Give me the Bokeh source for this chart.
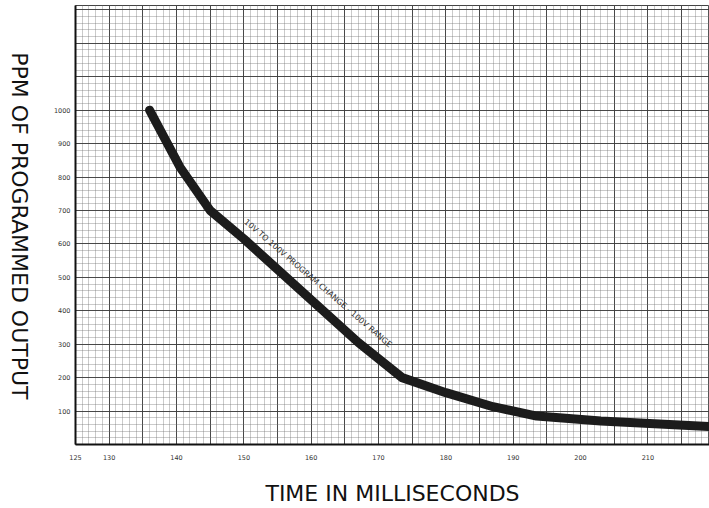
import math
from bokeh.plotting import figure
from bokeh.layouts import row
from bokeh.models import Range1d, FixedTicker, SingleIntervalTicker, Label
from bokeh.embed import file_html
from bokeh.resources import INLINE

# Data
time_ms = [136, 140.5, 145, 150, 167, 173.5, 180, 187, 193.5, 203, 219]
ppm = [1000, 830, 700, 615, 305, 200, 155, 113, 85, 70, 54]

x_tick_values = [125, 130, 140, 150, 160, 170, 180, 190, 200, 210]
y_tick_values = [100, 200, 300, 400, 500, 600, 700, 800, 900, 1000]

curve_note = "10V TO 100V PROGRAM CHANGE - 100V RANGE"
x_title = "TIME IN MILLISECONDS"
y_title = "PPM OF PROGRAMMED OUTPUT"

H = 508
SIDE_W = 34

# narrow strip holding the top-to-bottom y title
side = figure(width=SIDE_W, height=H, output_backend="svg", toolbar_location=None,
              x_range=Range1d(0, SIDE_W), y_range=Range1d(0, H),
              x_axis_location=None, y_axis_location=None,
              min_border_left=0, min_border_right=0, min_border_top=0,
              min_border_bottom=0)
side.outline_line_color = None
side.xgrid.visible = False
side.ygrid.visible = False
side.background_fill_color = "white"
side.border_fill_color = "white"
side.add_layout(Label(x=18.5, y=H - 255, text=y_title, angle=-math.pi / 2,
                      text_align="center", text_baseline="middle",
                      text_font="DejaVu Sans", text_font_size="22px",
                      text_color="#111111"))

p = figure(width=709 - SIDE_W, height=H, output_backend="svg", toolbar_location=None,
           x_range=Range1d(125, 219.15), y_range=Range1d(0, 1313),
           min_border_left=75 - SIDE_W, min_border_right=0, min_border_top=5,
           min_border_bottom=63)
p.background_fill_color = "white"
p.border_fill_color = "white"
p.outline_line_color = "#444444"

# graph-paper grid
p.xgrid.ticker = SingleIntervalTicker(interval=5, num_minor_ticks=5)
p.ygrid.ticker = SingleIntervalTicker(interval=100, num_minor_ticks=5)
for g in (p.xgrid, p.ygrid):
    g.grid_line_color = "#3a3a3a"
    g.grid_line_width = 1
    g.grid_line_alpha = 0.9
    g.minor_grid_line_color = "#707070"
    g.minor_grid_line_dash = "1 1"
    g.minor_grid_line_alpha = 0.75
    g.minor_grid_line_width = 1

# axes
p.xaxis.ticker = FixedTicker(ticks=x_tick_values)
p.yaxis.ticker = FixedTicker(ticks=y_tick_values)
for ax in (p.xaxis, p.yaxis):
    ax.major_tick_in = 0
    ax.major_tick_out = 0
    ax.minor_tick_in = 0
    ax.minor_tick_out = 0
    ax.axis_line_color = "#111111"
    ax.axis_line_width = 2
    ax.major_label_text_font = "DejaVu Sans"
    ax.major_label_text_font_size = "6.5px"
    ax.major_label_text_color = "#333333"
p.xaxis.major_label_standoff = 10
p.yaxis.major_label_standoff = 5

p.xaxis.axis_label = x_title
p.xaxis.axis_label_text_font = "DejaVu Sans"
p.xaxis.axis_label_text_font_size = "22px"
p.xaxis.axis_label_text_font_style = "normal"
p.xaxis.axis_label_text_color = "#111111"
p.xaxis.axis_label_standoff = 18

# curve
p.line(time_ms, ppm, line_color="#1c1c1c", line_width=9,
       line_join="round", line_cap="round")

p.add_layout(Label(x=161.0, y=482, text=curve_note, angle=-0.71,
                   text_align="center", text_baseline="middle",
                   text_font="DejaVu Sans", text_font_size="8px",
                   text_color="#333333"))

layout = row(side, p)
open("out.html", "w").write(file_html(layout, INLINE))
